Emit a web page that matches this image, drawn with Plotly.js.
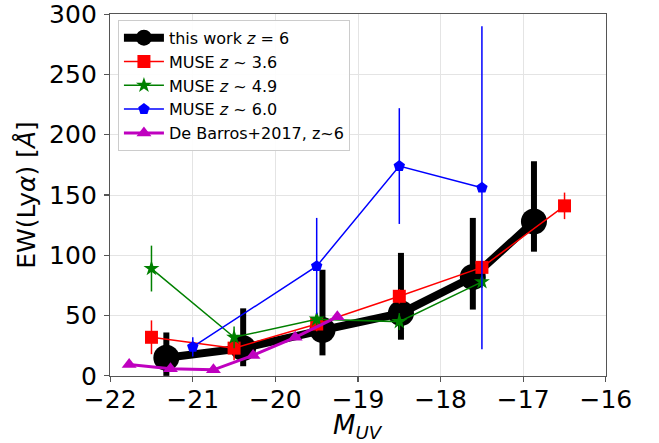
<!DOCTYPE html>
<html>
<head>
<meta charset="utf-8">
<script src="https://cdn.plot.ly/plotly-3.0.1.min.js"></script>
<style>html,body{margin:0;padding:0;background:#fff;}#chart{width:659px;height:443px;}</style>
</head>
<body>
<div id="chart"></div>
<script>
// This work z=6
const thisX = [-21.32, -20.39, -19.43, -18.48, -17.61, -16.87];
const thisY = [15, 23, 38, 52, 82, 128];
const thisErrUp = [21, 33, 50, 50, 49, 50];
const thisErrDn = [15, 15, 21, 22, 27, 25];
// MUSE z~3.6
const m36X = [-21.5, -20.5, -19.5, -18.5, -17.5, -16.5];
const m36Y = [32, 23, 43, 66, 90, 141];
const m36Err = [14, 10, 6, 6, 5, 11];
// MUSE z~4.9
const m49X = [-21.5, -20.5, -19.5, -18.5, -17.5];
const m49Y = [89, 32, 47, 45, 78];
const m49Err = [19, 9, 5, 7, 5];
// MUSE z~6.0
const m60X = [-21.0, -19.5, -18.5, -17.5];
const m60Y = [24, 91, 174, 156];
const m60Err = [8, 40, 48, 134];
// De Barros+2017
const dbX = [-21.77, -21.27, -20.75, -20.27, -19.76, -19.25];
const dbY = [9.5, 6, 5, 17, 32, 49];
// tick values
const xTicks = [-22, -21, -20, -19, -18, -17, -16];
const yTicks = [0, 50, 100, 150, 200, 250, 300];
const xTitle = '<i>M</i><sub><i>UV</i></sub>';
const yTitle = 'EW(Ly<i>α</i>) [<i>Å</i>]';

const font = "DejaVu Sans, sans-serif";

const traces = [
  {
    x: thisX, y: thisY, type: 'scatter', mode: 'lines+markers',
    name: 'this work <i>z</i> = 6',
    line: {color: 'black', width: 8},
    marker: {color: 'black', size: 26, symbol: 'circle'},
    error_y: {type: 'data', symmetric: false, array: thisErrUp, arrayminus: thisErrDn, color: 'black', thickness: 6, width: 0}
  },
  {
    x: m36X, y: m36Y, type: 'scatter', mode: 'lines+markers',
    name: 'MUSE <i>z</i> ~ 3.6',
    line: {color: 'red', width: 1.5},
    marker: {color: 'red', size: 13, symbol: 'square'},
    error_y: {type: 'data', array: m36Err, color: 'red', thickness: 1.5, width: 0}
  },
  {
    x: m49X, y: m49Y, type: 'scatter', mode: 'lines+markers',
    name: 'MUSE <i>z</i> ~ 4.9',
    line: {color: 'green', width: 1.5},
    marker: {color: 'green', size: 12, symbol: 'star'},
    error_y: {type: 'data', array: m49Err, color: 'green', thickness: 1.5, width: 0}
  },
  {
    x: m60X, y: m60Y, type: 'scatter', mode: 'lines+markers',
    name: 'MUSE <i>z</i> ~ 6.0',
    line: {color: 'blue', width: 1.5},
    marker: {color: 'blue', size: 12, symbol: 'pentagon'},
    error_y: {type: 'data', array: m60Err, color: 'blue', thickness: 1.5, width: 0}
  },
  {
    x: dbX, y: dbY, type: 'scatter', mode: 'lines+markers',
    name: 'De Barros+2017, z~6',
    line: {color: '#bf00bf', width: 3},
    marker: {color: '#bf00bf', size: 13, symbol: 'triangle-up'}
  }
];

const layout = {
  width: 659, height: 443,
  margin: {l: 110, r: 53, t: 14, b: 67},
  paper_bgcolor: 'white', plot_bgcolor: 'white',
  font: {family: font, color: 'black'},
  showlegend: true,
  legend: {
    x: 0.016, y: 0.984, xanchor: 'left', yanchor: 'top',
    bgcolor: 'rgba(255,255,255,0.9)', bordercolor: '#cccccc', borderwidth: 1,
    font: {family: font, size: 16, color: 'black'},
    itemwidth: 40,
    tracegroupgap: 0
  },
  annotations: [{
    text: xTitle, xref: 'paper', yref: 'paper', x: 0.5, y: 0,
    xanchor: 'center', yanchor: 'top', yshift: -32, showarrow: false,
    font: {family: font, size: 26, color: 'black'}
  }],
  xaxis: {
    range: [-22.002, -15.998], tickmode: 'array', tickvals: xTicks,
    ticktext: xTicks.map(v => v < 0 ? '\u2212' + Math.abs(v) : String(v)),
    showgrid: true, gridcolor: '#e4e4e4', gridwidth: 1,
    zeroline: false, showline: true, linecolor: '#555555', linewidth: 1.2, mirror: true,
    ticks: 'outside', ticklen: 5, tickcolor: '#555555', tickwidth: 1.2,
    ticklabelstandoff: -4, ticklabeloverflow: 'allow',
    tickfont: {family: font, size: 25, color: 'black'}
  },
  yaxis: {
    range: [-0.1, 300.1], tickmode: 'array', tickvals: yTicks,
    ticktext: yTicks.map(String),
    showgrid: true, gridcolor: '#e4e4e4', gridwidth: 1,
    zeroline: false, showline: true, linecolor: '#555555', linewidth: 1.2, mirror: true,
    ticks: 'outside', ticklen: 5, tickcolor: '#555555', tickwidth: 1.2,
    ticklabelstandoff: 2, ticklabeloverflow: 'allow',
    tickfont: {family: font, size: 25, color: 'black'},
    title: {text: yTitle, font: {family: font, size: 25, color: 'black'}, standoff: 6}
  }
};

Plotly.newPlot('chart', traces, layout, {displayModeBar: false, staticPlot: true});
</script>
</body>
</html>
